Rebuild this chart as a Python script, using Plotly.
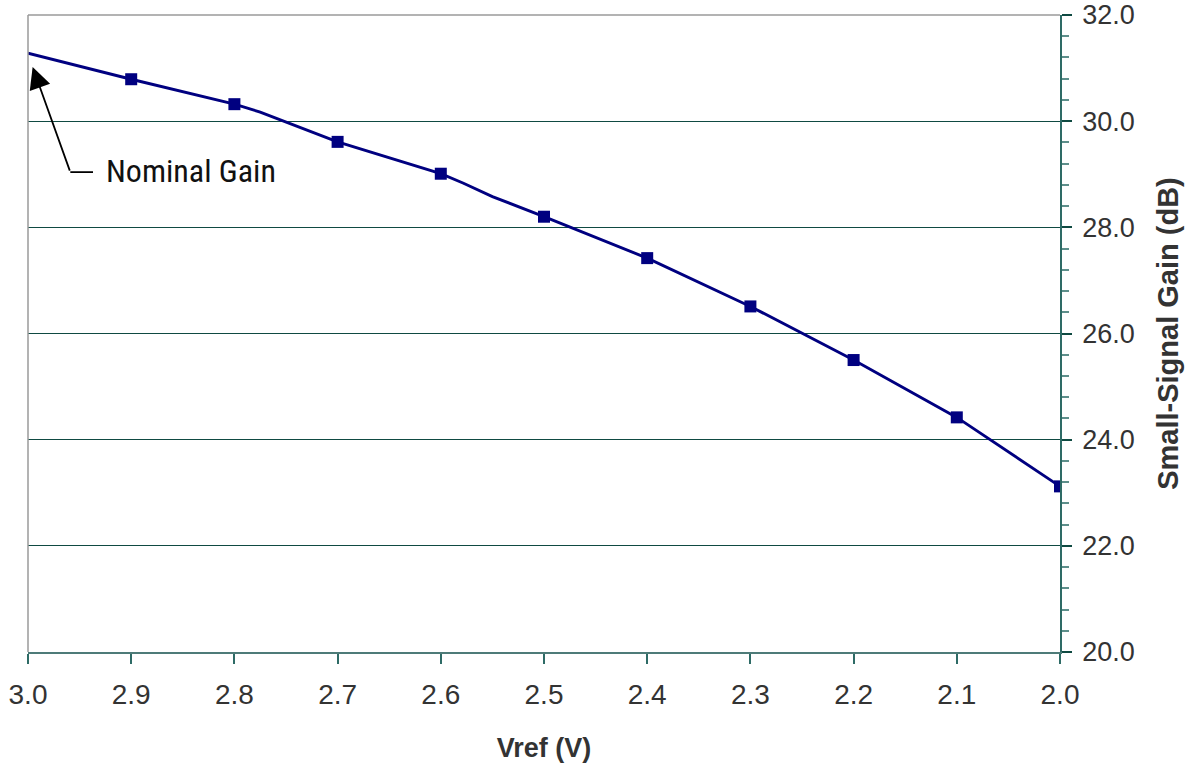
import plotly.graph_objects as go

# Line data (includes start point and visible bends in the curve)
line_vref = [3.0, 2.9, 2.8, 2.775, 2.7, 2.6, 2.578, 2.55, 2.5, 2.4, 2.3, 2.2, 2.1, 2.0]
line_gain = [31.28, 30.79, 30.32, 30.17, 29.61, 29.01, 28.83, 28.58, 28.20, 27.42, 26.51, 25.50, 24.42, 23.12]

# Marker data
marker_vref = [2.9, 2.8, 2.7, 2.6, 2.5, 2.4, 2.3, 2.2, 2.1, 2.0]
marker_gain = [30.79, 30.32, 29.61, 29.01, 28.20, 27.42, 26.51, 25.50, 24.42, 23.12]

x_ticks = [3.0, 2.9, 2.8, 2.7, 2.6, 2.5, 2.4, 2.3, 2.2, 2.1, 2.0]
y_ticks = [20, 22, 24, 26, 28, 30, 32]

NAVY = "#000080"
TEAL = "#2E6B66"
GRID = "#0F4A42"
TXT = "#333333"

fig = go.Figure()
fig.add_trace(go.Scatter(x=line_vref, y=line_gain, mode="lines",
                         line=dict(color=NAVY, width=2.9), hoverinfo="skip", showlegend=False))
fig.add_trace(go.Scatter(x=marker_vref, y=marker_gain, mode="markers",
                         marker=dict(symbol="square", size=12, color=NAVY), showlegend=False))

font_main = "Liberation Sans, Arial, sans-serif"

fig.update_layout(
    width=1198, height=763,
    margin=dict(l=28, r=138, t=15, b=111),
    paper_bgcolor="white", plot_bgcolor="white",
    font=dict(family=font_main, color=TXT),
    xaxis=dict(
        range=[3.0, 2.0], tickvals=x_ticks, ticktext=[f"{v:.1f}" for v in x_ticks],
        showgrid=False, zeroline=False, automargin=False,
        showline=True, linecolor="#4E7B78", linewidth=2,
        ticks="outside", ticklen=10, tickcolor=TEAL, tickwidth=1.5,
        ticklabelstandoff=6,
        tickfont=dict(size=28, color=TXT, family=font_main),
        title=dict(text="<b>Vref (V)</b>", font=dict(size=27, color=TXT, family=font_main), standoff=30),
    ),
    yaxis=dict(
        range=[20, 32], side="right", tickvals=y_ticks, ticktext=[f"{v:.1f}" for v in y_ticks],
        showgrid=True, gridcolor=GRID, gridwidth=1, zeroline=False, automargin=False,
        showline=True, linecolor=TEAL, linewidth=1.5,
        ticks="outside", ticklen=10, tickcolor=GRID, tickwidth=1.5,
        ticklabelstandoff=5,
        minor=dict(dtick=0.4, tick0=20, ticks="outside", ticklen=7, tickcolor="#5E8F8B", tickwidth=1.5, showgrid=False),
        tickfont=dict(size=27, color=TXT, family=font_main),
        title=dict(text="<b>Small-Signal Gain (dB)</b>", font=dict(size=29, color=TXT, family=font_main), standoff=24),
    ),
)

# Gray top and left borders of the plot area
fig.add_shape(type="line", xref="paper", yref="paper", x0=0, x1=1, y0=1, y1=1,
              line=dict(color="#9A9A9A", width=1.5))
fig.add_shape(type="line", xref="paper", yref="paper", x0=0, x1=0, y0=0, y1=1,
              line=dict(color="#9A9A9A", width=1.5))

# Nominal Gain callout: horizontal leader + arrow
fig.add_shape(type="line", xref="x", yref="y", x0=2.959, x1=2.937, y0=29.04, y1=29.04,
              line=dict(color="black", width=1.8))
fig.add_annotation(x=2.9955, y=31.02, ax=2.959, ay=29.04, xref="x", yref="y", axref="x", ayref="y",
                   text="", showarrow=True, arrowhead=2, arrowsize=2.4, arrowwidth=1.8, arrowcolor="black",
                   standoff=0)
fig.add_annotation(x=2.926, y=29.06, xref="x", yref="y", text="Nominal Gain", showarrow=False,
                   xanchor="left", yanchor="middle",
                   font=dict(size=32, color="#111111", family="Liberation Sans Narrow, Roboto Condensed, Arial Narrow, sans-serif"))

fig.write_html("out.html")
